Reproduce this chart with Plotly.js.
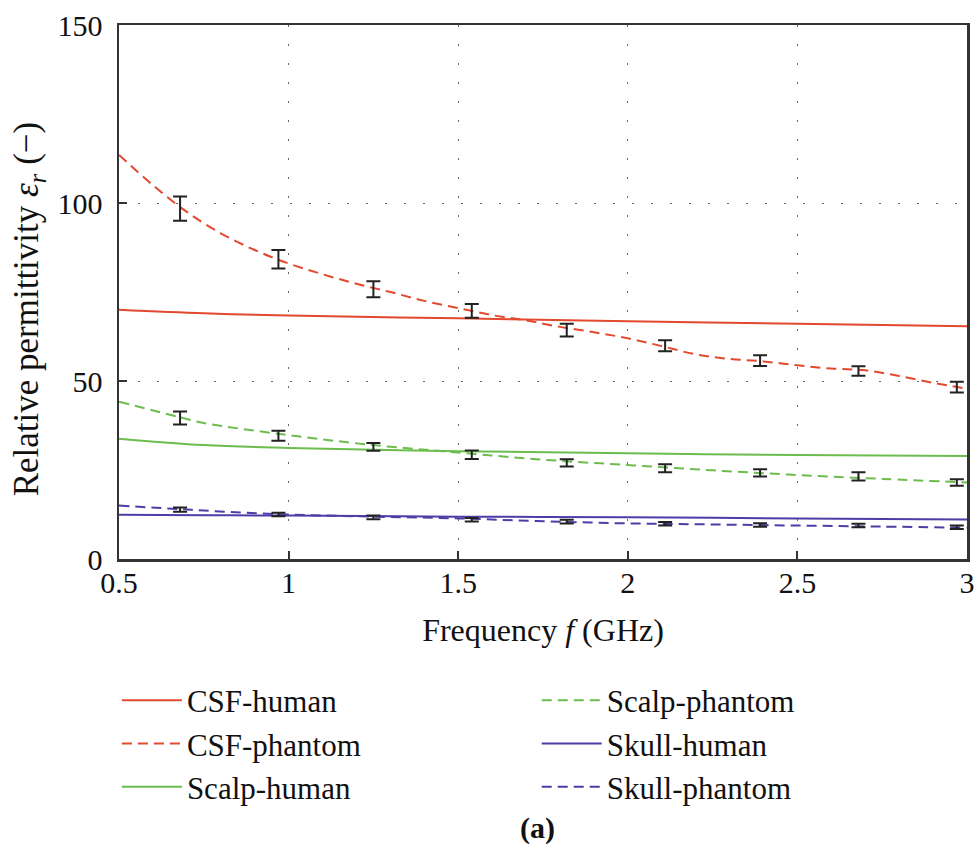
<!DOCTYPE html>
<html>
<head>
<meta charset="utf-8">
<script src="https://cdn.plot.ly/plotly-3.0.1.min.js"></script>
<style>html,body{margin:0;padding:0;background:#fff;}</style>
</head>
<body>
<div id="chart" style="width:980px;height:865px;"></div>
<script>
// Curves (fitted lines)
const fCurve = [0.5,0.6,0.7,0.8,0.9,1.0,1.1,1.2,1.3,1.4,1.5,1.6,1.7,1.8,1.9,2.0,2.1,2.2,2.3,2.4,2.5,2.6,2.7,2.8,2.9,3.0];
const csfPhantom = [113.5,105,97.5,91.5,86.8,83,80,77.3,75,72.5,70.5,68.5,67,65.2,63.7,62,59.8,57.5,56.2,55.5,54.4,53.5,53,51.4,49.5,47.8];
const fHuman = [0.5,0.75,1.0,1.5,2.0,2.5,3.0];
const csfHuman = [70.0,69.0,68.4,67.6,66.8,66.1,65.4];
const scalpHuman = [33.8,32.0,31.2,30.3,29.7,29.2,28.9];
const skullHuman = [12.4,12.3,12.2,11.9,11.7,11.4,11.1];
const fPh = [0.5,0.68,0.75,1.0,1.25,1.5,1.75,2.0,2.25,2.5,2.75,3.0];
const scalpPhantom = [44.2,39.8,38.2,34.8,32.0,29.9,27.9,26.4,24.9,23.6,22.5,21.5];
const skullPhantom = [15.0,14.0,13.6,12.5,11.9,11.4,10.6,10.0,9.7,9.4,9.1,8.8];
// Measurements with error bars
const fMeas = [0.68,0.97,1.25,1.54,1.82,2.11,2.39,2.68,2.97];
const csfMeas = [98.4,84.2,75.8,69.7,64.3,59.9,55.7,52.8,48.3];
const csfErr = [3.4,2.6,2.25,1.9,1.8,1.55,1.5,1.35,1.5];
const scalpMeas = [39.6,34.6,31.5,29.3,27.0,25.5,24.2,23.2,21.5];
const scalpErr = [1.8,1.4,1.1,1.2,1.0,1.15,1.0,1.15,0.9];
const skullMeas = [13.9,12.5,11.7,11.0,10.5,9.9,9.55,9.4,8.9];
const skullErr = [0.6,0.5,0.5,0.5,0.5,0.5,0.5,0.5,0.5];
const xTicks = [0.5,1,1.5,2,2.5,3];
const xTickText = ['0.5','1','1.5','2','2.5','3'];
const yTicks = [0,50,100,150];

const RED = '#e4482f', GREEN = '#6cbd4e', BLUE = '#4b3ea6';
const FONT = "'Liberation Serif', 'DejaVu Serif', serif";
const DASH = '10px,6px';

function line(x, y, name, color, dash, legend) {
  return {x: x, y: y, name: name, type: 'scatter', mode: 'lines', line: {color: color, width: 2, dash: dash, shape: 'spline'}, legend: legend, hoverinfo: 'skip'};
}
function meas(y, e) {
  return {x: fMeas, y: y, type: 'scatter', mode: 'markers', marker: {size: 0.1, color: '#222'}, showlegend: false,
    error_y: {type: 'data', array: e, visible: true, color: '#222', thickness: 2, width: 7}};
}
const data = [
  line(fHuman, csfHuman, 'CSF-human', RED, 'solid', 'legend'),
  line(fCurve, csfPhantom, 'CSF-phantom', RED, DASH, 'legend'),
  line(fHuman, scalpHuman, 'Scalp-human', GREEN, 'solid', 'legend'),
  line(fPh, scalpPhantom, 'Scalp-phantom', GREEN, DASH, 'legend2'),
  line(fHuman, skullHuman, 'Skull-human', BLUE, 'solid', 'legend2'),
  line(fPh, skullPhantom, 'Skull-phantom', BLUE, DASH, 'legend2'),
  meas(csfMeas, csfErr), meas(scalpMeas, scalpErr), meas(skullMeas, skullErr)
];
const legBase = {orientation: 'v', yanchor: 'top', xanchor: 'left', y: -0.2144, font: {family: FONT, size: 31, color: '#111'}, bgcolor: 'rgba(0,0,0,0)', tracegroupgap: 0, itemwidth: 60};
const layout = {
  width: 980, height: 865,
  margin: {l: 119, r: 13, t: 25, b: 306},
  paper_bgcolor: '#fff', plot_bgcolor: '#fff',
  font: {family: FONT, size: 30, color: '#111'},
  xaxis: {range: [0.5, 3], tickvals: xTicks, ticktext: xTickText, ticks: 'inside', ticklen: 8, tickwidth: 2, tickcolor: '#333',
    showline: true, linecolor: '#333', linewidth: 2.5, mirror: true, showgrid: true, gridcolor: '#666', gridwidth: 1, griddash: '2px,17px',
    zeroline: false, tickfont: {family: FONT, size: 30, color: '#111'}, ticklabelstandoff: -5,
    title: {text: 'Frequency <i>f</i> (GHz)', font: {family: FONT, size: 32, color: '#111'}, standoff: 21}},
  yaxis: {range: [0, 150], tickvals: yTicks, ticks: 'inside', ticklen: 8, tickwidth: 2, tickcolor: '#333',
    showline: true, linecolor: '#333', linewidth: 2.5, mirror: true, showgrid: true, gridcolor: '#666', gridwidth: 1, griddash: '2px,17px',
    zeroline: false, tickfont: {family: FONT, size: 30, color: '#111'}, ticklabelstandoff: 8},
  legend: Object.assign({}, legBase, {x: -0.0025}),
  legend2: Object.assign({}, legBase, {x: 0.4926}),
  annotations: [
    {text: 'Relative permittivity <i>ε<sub>r</sub></i> (−)', xref: 'paper', yref: 'paper', x: -0.107, y: 0.468, xanchor: 'center', yanchor: 'middle', textangle: -90, showarrow: false, font: {family: FONT, size: 35, color: '#111'}},
    {text: '<b>(a)</b>', xref: 'paper', yref: 'paper', x: 0.493, y: -0.504, xanchor: 'center', yanchor: 'middle', showarrow: false, font: {family: FONT, size: 30, color: '#111'}}
  ],
  showlegend: true
};
Plotly.newPlot('chart', data, layout, {displayModeBar: false, staticPlot: true});
</script>
</body>
</html>
